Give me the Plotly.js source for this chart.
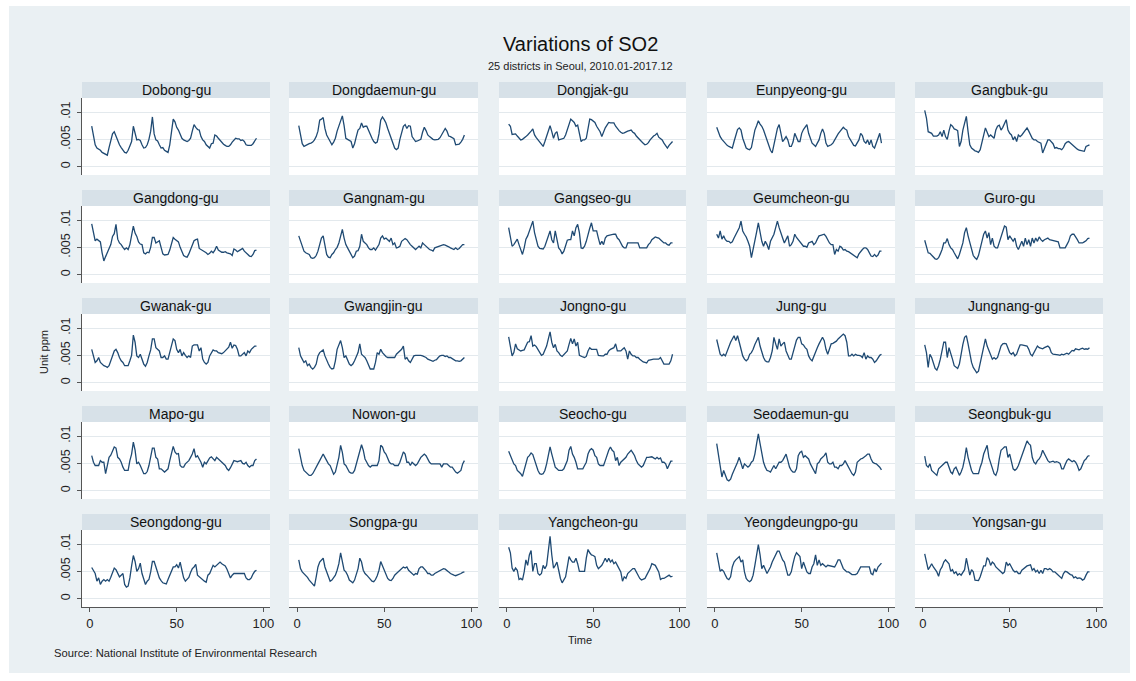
<!DOCTYPE html>
<html><head><meta charset="utf-8">
<script src="https://cdn.plot.ly/plotly-3.0.1.min.js"></script>
<style>
html,body{margin:0;padding:0;background:#ffffff;width:1136px;height:681px;overflow:hidden}
#chart{position:absolute;left:9px;top:6px;width:1121px;height:667px}
</style></head><body><div id="chart"></div>
<script>
// Monthly SO2 (values in 0.001 ppm), t = 1..96 (2010.01-2017.12)
const districts = ["Dobong-gu","Dongdaemun-gu","Dongjak-gu","Eunpyeong-gu","Gangbuk-gu",
  "Gangdong-gu","Gangnam-gu","Gangseo-gu","Geumcheon-gu","Guro-gu",
  "Gwanak-gu","Gwangjin-gu","Jongno-gu","Jung-gu","Jungnang-gu",
  "Mapo-gu","Nowon-gu","Seocho-gu","Seodaemun-gu","Seongbuk-gu",
  "Seongdong-gu","Songpa-gu","Yangcheon-gu","Yeongdeungpo-gu","Yongsan-gu"];

const dobong = [7.4,5.5,4.0,3.4,3.2,3.0,2.6,2.4,2.3,2.1,3.5,5.0, 6.0,6.4,5.5,4.6,4.0,3.5,3.0,2.6,2.5,3.0,3.8,4.6,
  7.4,6.0,4.9,5.0,4.8,4.0,3.4,3.5,4.0,5.0,6.5,9.1, 6.0,4.9,4.7,4.0,3.4,3.5,3.0,2.8,2.6,4.0,6.5,8.7,
  8.2,7.2,6.7,5.8,5.2,4.9,4.7,4.6,4.8,5.2,6.5,7.7, 7.2,6.8,6.7,5.5,4.9,4.6,4.0,3.6,3.4,4.2,4.3,5.8,
  5.6,5.2,4.8,4.4,4.1,3.9,3.7,3.7,4.0,4.5,4.9,5.2, 5.1,5.1,4.8,4.9,4.6,4.0,3.9,3.9,3.9,4.2,4.6,5.2];
const dongdaemun = [7.5,5.5,4.2,3.7,3.9,4.0,4.2,4.3,4.5,4.9,5.5,6.5, 8.5,8.7,9.0,7.0,5.8,5.2,4.6,4.0,4.5,5.2,6.5,7.5,
  8.5,9.3,7.5,5.2,5.0,4.8,4.6,3.4,4.2,5.5,6.7,7.0, 8.0,7.2,7.4,7.4,6.6,6.1,5.2,4.6,4.3,4.5,6.0,8.5,
  9.1,8.6,8.0,7.0,6.1,5.5,4.6,3.4,3.1,3.4,5.0,6.5, 7.4,7.7,7.0,7.5,7.4,5.5,5.0,4.6,4.7,4.9,5.0,6.3,
  7.2,6.6,5.8,5.5,5.2,5.0,4.9,4.9,5.0,5.3,5.8,6.3, 7.0,6.5,5.6,5.5,5.3,5.1,4.0,4.0,4.1,4.5,5.0,5.8];
const dongjak = [7.8,7.4,5.9,6.0,6.0,5.6,5.3,4.9,5.0,5.2,5.5,5.8, 6.1,6.5,6.9,5.8,5.3,4.9,4.6,4.2,3.7,4.6,5.5,6.4,
  7.5,6.4,5.2,6.1,6.4,4.9,5.0,5.0,5.2,5.8,6.7,7.5, 8.7,8.4,8.1,7.4,7.6,6.1,4.6,4.9,4.9,5.2,6.7,8.7,
  8.6,8.4,8.1,7.4,6.9,6.4,5.5,6.4,7.1,7.6,8.1,8.0, 8.0,8.0,7.4,6.9,6.6,6.3,6.1,6.2,6.4,6.5,6.6,6.7,
  6.3,6.1,5.6,5.2,5.0,4.6,4.3,4.0,4.1,4.4,4.9,5.3, 5.6,5.8,6.1,5.4,5.1,4.9,4.3,3.9,3.4,3.9,4.3,4.6];
const eunpyeong = [7.2,6.2,5.5,5.0,4.6,4.3,3.9,3.7,3.6,3.4,4.6,6.0, 6.8,7.1,6.7,5.2,4.3,3.4,3.2,3.1,3.5,5.0,6.7,7.5,
  8.4,7.8,7.4,6.7,5.8,4.8,3.7,3.0,2.5,4.0,6.1,7.0, 7.7,6.1,4.6,5.0,5.5,4.9,3.7,3.7,4.5,6.1,5.2,4.6,
  4.6,6.1,6.8,7.3,7.7,6.1,5.2,4.3,4.0,3.7,4.3,4.9, 6.1,6.9,6.1,4.3,3.7,3.8,4.0,4.3,4.9,5.5,6.0,6.4,
  6.9,7.2,6.9,6.7,5.5,4.9,4.3,3.9,3.8,4.3,4.9,6.1, 5.7,4.6,4.3,4.9,4.0,4.9,3.7,3.4,4.3,5.2,6.1,4.3];
const gangbuk = [10.3,8.9,6.4,6.2,6.1,5.6,5.6,5.6,5.8,6.4,5.5,6.7, 5.5,5.0,6.5,7.7,7.4,6.9,6.8,6.6,3.7,4.6,6.7,8.0,
  9.2,6.4,4.0,3.4,3.1,2.9,2.8,2.6,3.1,4.3,5.5,7.1, 6.3,5.5,5.8,5.5,5.2,6.7,7.4,7.6,6.7,7.2,8.0,8.6,
  6.7,6.1,5.8,4.9,5.5,4.6,5.8,5.5,5.8,6.2,6.6,7.1, 6.5,5.8,5.2,4.9,4.9,4.6,4.5,4.3,2.5,3.4,4.0,4.9,
  4.9,4.6,4.2,3.4,3.5,3.3,3.3,3.1,3.5,4.2,4.5,4.6, 4.3,4.0,3.8,3.4,3.2,3.0,2.9,2.8,2.8,3.7,3.9,4.0];
const gangdong = [9.3,7.5,6.2,6.5,6.3,6.0,4.0,2.5,3.3,4.0,4.8,5.5, 7.0,7.5,9.2,6.5,5.8,5.5,5.0,4.6,4.9,4.6,5.5,7.0,
  8.9,7.6,7.0,6.0,5.6,5.5,4.0,3.8,4.1,4.0,5.0,6.8, 6.8,5.8,6.0,6.2,5.0,3.8,3.6,3.6,3.7,4.5,5.5,6.8,
  6.5,6.3,6.0,5.0,4.2,3.5,3.3,3.2,3.8,4.5,5.2,6.2, 6.4,6.5,4.8,4.6,4.5,4.2,4.0,3.7,3.9,4.3,4.0,4.5,
  5.2,4.5,4.3,4.1,4.1,4.2,4.0,3.9,3.8,3.5,4.7,4.5, 4.2,4.4,4.6,4.8,4.3,4.0,3.8,3.4,3.3,3.7,4.4,4.5];
const gangnam = [7.1,6.1,5.0,4.3,4.0,3.8,3.7,3.1,3.0,3.1,3.5,4.3, 5.8,6.7,7.1,5.2,3.7,3.2,3.1,3.7,4.0,4.6,5.0,5.8,
  7.0,8.3,6.7,5.5,4.9,4.3,3.5,3.1,3.4,4.3,4.4,5.2, 7.4,6.1,5.8,5.5,4.9,4.6,4.6,4.9,4.5,4.9,5.5,6.7,
  7.1,6.5,6.7,6.4,6.1,6.7,5.5,5.8,4.9,5.0,5.2,6.1, 6.4,6.6,6.4,5.9,5.5,5.2,4.9,4.6,4.9,5.2,4.9,5.8,
  5.5,5.2,4.9,4.6,4.5,4.3,4.9,5.0,5.2,5.3,5.4,5.5, 5.4,5.3,5.1,4.9,4.8,4.6,4.9,4.6,4.8,5.2,5.5,5.5];
const gangseo = [8.6,6.7,5.2,5.5,6.1,6.5,5.5,4.6,3.7,4.9,6.5,7.1, 8.0,9.2,9.8,7.7,6.1,5.2,4.8,4.7,4.7,5.2,6.1,7.0,
  8.0,6.4,5.8,8.0,6.1,4.9,4.5,3.8,4.3,5.2,6.3,6.4, 6.4,8.0,7.1,8.6,9.2,7.7,4.9,4.8,5.2,6.1,7.5,8.5,
  9.5,8.0,8.0,8.0,6.7,5.5,6.1,5.5,6.7,7.1,7.2,7.3, 7.4,7.4,7.4,6.7,6.4,5.8,5.2,4.9,4.9,5.8,5.8,5.8,
  5.8,5.8,5.8,5.8,4.9,4.9,4.9,4.9,4.9,5.5,5.8,6.4, 6.7,6.9,6.8,6.7,6.4,6.1,5.8,5.8,5.5,5.4,5.8,5.8];
const geumcheon = [7.4,6.7,8.0,6.5,7.1,6.4,6.1,6.1,5.8,6.0,6.7,7.4, 8.0,8.6,9.8,8.0,7.4,6.9,6.1,5.2,3.1,4.9,6.1,7.8,
  9.5,7.4,6.1,5.2,6.1,5.5,4.6,6.1,6.7,7.4,8.6,9.8, 8.6,7.4,6.7,5.8,6.4,7.1,5.2,5.5,6.1,7.4,6.8,6.4,
  6.1,5.8,5.2,5.2,5.0,5.8,6.0,6.1,5.5,5.8,6.5,7.1, 7.2,7.3,7.4,7.0,6.4,5.8,5.5,5.5,3.7,4.6,4.3,5.2,
  5.0,4.5,4.6,4.3,4.2,4.0,3.7,3.6,3.4,3.1,3.8,4.3, 4.6,4.9,4.9,4.6,4.0,3.4,3.3,3.7,3.3,3.6,4.3,4.3];
const guro = [6.3,4.9,4.0,3.9,3.5,3.1,2.9,2.8,3.1,3.8,4.6,5.8, 5.8,6.6,5.5,4.9,4.6,4.0,3.4,2.9,3.7,5.0,5.8,7.7,
  8.6,7.1,5.8,4.6,3.5,3.1,2.8,3.5,4.6,6.1,7.4,8.0, 6.7,7.7,5.5,6.7,5.2,4.9,4.9,5.8,6.7,7.7,8.9,8.7,
  6.4,7.1,6.7,6.1,6.7,5.2,4.6,5.5,6.1,5.2,6.7,5.5, 6.4,5.2,6.7,5.8,6.7,6.1,6.9,6.4,6.1,6.4,6.5,6.7,
  6.4,6.3,6.2,6.2,6.1,6.0,4.9,4.9,4.9,4.9,5.5,6.1, 7.1,7.4,7.4,7.0,6.4,5.8,5.8,5.8,6.0,6.2,6.6,6.7];
const gwanak = [6.1,4.9,3.7,4.0,4.6,3.7,3.4,3.1,3.0,2.8,3.1,4.0, 4.6,5.8,6.1,5.5,4.6,4.0,3.7,3.1,3.1,3.1,4.0,5.0,
  8.7,7.4,4.9,4.6,5.2,4.3,3.4,3.0,3.7,4.9,6.0,8.0, 8.0,6.4,6.1,5.8,4.6,4.6,4.9,4.3,4.3,5.5,7.0,8.0,
  7.7,6.1,5.5,6.1,4.9,5.5,5.0,4.6,4.9,4.6,6.7,6.9, 6.9,6.9,5.8,6.4,4.3,3.7,3.4,3.7,4.9,5.5,6.0,5.8,
  5.8,5.5,5.4,5.3,5.5,5.8,6.2,6.5,7.4,6.3,6.9,6.8, 6.1,4.9,4.9,5.2,5.5,4.9,5.8,5.5,6.1,6.4,6.7,6.7];
const gwangjin = [6.4,4.9,4.3,3.7,4.0,3.1,3.4,2.8,2.5,2.8,3.4,4.9, 5.5,5.8,6.0,4.9,4.0,3.4,2.8,2.5,2.6,4.0,6.1,6.9,
  7.7,6.4,4.6,4.9,4.0,3.4,3.1,3.4,4.0,4.9,5.5,7.1, 5.2,4.9,4.6,4.0,3.1,2.5,2.5,2.5,3.7,5.5,5.2,6.1,
  5.5,5.1,4.8,4.6,4.6,4.6,4.6,4.6,5.2,5.5,5.8,6.1, 6.7,4.3,4.6,4.0,3.7,4.3,4.9,5.0,5.0,5.1,5.0,4.9,
  4.8,4.6,4.3,4.2,4.0,3.9,4.1,4.2,4.6,4.9,5.0,5.0, 4.8,4.9,4.6,4.6,4.4,4.2,4.0,4.0,3.9,4.0,4.3,4.6];
const jongno = [8.4,6.4,4.9,5.5,7.1,6.2,6.0,5.8,5.9,6.0,6.7,7.4, 7.5,8.6,6.7,6.9,6.6,6.1,5.5,5.0,5.2,6.0,6.7,8.0,
  9.3,7.4,6.4,7.0,5.8,5.5,5.0,4.8,5.2,5.5,5.8,7.0, 8.1,7.1,8.0,6.7,7.4,5.0,4.8,4.7,4.6,4.8,5.8,6.4,
  6.1,6.1,6.1,6.1,5.0,4.9,4.9,4.9,5.2,5.2,5.8,6.1, 6.2,6.4,7.1,5.8,5.8,5.8,6.1,6.4,5.8,4.3,5.8,5.2,
  4.9,4.9,4.6,4.6,4.3,4.0,3.8,3.7,3.6,4.1,4.2,4.3, 4.3,4.3,4.3,4.3,4.6,4.0,3.4,3.4,3.4,3.4,4.0,5.2];
const jung = [7.9,6.4,5.2,4.9,5.2,4.9,5.8,6.7,7.4,8.0,8.6,7.7, 8.6,7.4,6.1,4.9,4.3,4.0,4.3,5.2,5.5,6.1,7.0,7.7,
  8.3,6.7,5.5,4.6,4.0,3.8,3.8,4.6,5.8,8.3,7.1,6.1, 8.0,6.7,7.1,7.4,5.8,5.0,4.3,4.3,5.5,7.1,7.8,8.3,
  8.3,7.1,6.9,6.4,6.1,4.9,4.3,4.0,4.9,5.8,6.4,7.1, 7.7,8.3,7.7,6.1,5.2,6.4,7.1,7.2,7.4,7.6,8.0,8.3,
  8.6,8.9,8.6,7.4,4.9,4.9,5.2,4.9,5.2,5.0,5.0,4.9, 4.6,5.5,4.3,4.9,4.6,4.6,4.3,3.7,4.0,4.6,5.0,5.2];
const jungnang = [6.9,5.5,2.8,5.2,4.6,3.4,2.6,2.3,3.1,4.3,6.0,7.4, 7.4,4.6,6.4,5.5,4.3,3.1,2.9,2.6,3.4,5.5,7.0,8.3,
  8.6,7.1,5.2,3.7,2.8,2.2,1.8,2.1,3.7,5.2,7.0,8.0, 6.7,5.8,4.9,4.3,4.6,4.3,4.6,5.5,6.7,7.1,7.2,7.1,
  6.1,5.5,5.2,5.5,4.9,5.2,6.1,6.9,6.9,6.8,6.7,6.7, 6.1,5.2,4.9,5.5,6.1,6.7,6.4,6.3,6.2,6.4,6.6,6.7,
  6.4,5.5,5.2,5.2,5.2,5.1,5.0,5.2,5.1,5.3,5.4,5.2, 5.5,5.9,5.8,6.2,6.1,6.0,6.2,6.3,6.1,6.2,6.1,6.4];
const mapo = [6.4,5.2,4.6,4.6,4.6,5.5,5.2,5.2,3.1,4.6,6.1,6.5, 7.4,8.0,7.8,6.1,5.8,5.2,4.3,3.7,3.7,3.7,5.5,6.7,
  8.9,7.4,4.9,5.2,4.6,3.7,3.1,3.1,3.5,4.6,6.1,7.8, 7.8,6.1,5.8,4.0,4.0,3.7,3.4,3.7,4.0,5.5,7.0,8.1,
  7.1,6.7,6.8,4.6,4.3,4.3,4.9,5.2,5.5,6.1,6.7,7.7, 6.1,6.4,5.8,5.2,4.3,5.2,4.9,5.5,6.0,6.2,5.8,5.5,
  6.1,5.8,5.5,5.2,4.9,4.6,4.0,3.7,4.2,4.9,5.5,5.4, 5.3,5.4,5.5,5.0,4.9,5.2,4.6,4.3,4.6,4.6,5.5,5.8];
const nowon = [7.7,6.1,4.6,3.7,3.4,3.1,2.8,2.8,3.1,3.7,4.2,4.9, 5.5,6.1,6.7,6.1,5.5,4.9,4.6,3.7,3.0,3.4,4.9,6.1,
  8.3,7.0,4.9,4.6,4.0,3.4,3.2,3.2,3.7,4.9,6.1,7.0, 8.4,7.4,5.8,5.2,4.6,4.3,4.6,4.6,4.6,4.6,5.5,8.3,
  8.0,7.1,6.7,5.8,5.2,4.9,4.9,4.6,4.6,4.6,5.2,6.4, 7.1,6.7,5.2,5.2,4.6,5.2,4.9,4.6,4.9,5.5,6.1,6.4,
  6.7,6.4,5.8,5.2,4.9,4.9,4.8,4.8,4.9,4.9,4.3,4.9, 4.9,4.9,4.6,4.3,4.3,3.8,3.4,3.2,3.4,3.7,4.9,5.5];
const seocho = [7.2,6.4,5.8,4.9,4.6,3.7,3.4,3.1,2.6,3.7,4.9,6.1, 6.4,6.9,6.6,5.5,4.9,3.7,3.1,3.0,3.1,3.7,4.9,6.4,
  8.0,6.7,5.5,4.3,4.0,3.7,3.7,3.7,4.0,4.9,5.5,7.4, 8.1,6.7,6.1,5.2,4.0,4.0,4.0,4.0,4.6,5.2,6.7,7.4,
  7.7,7.4,6.4,6.1,4.9,4.6,4.6,4.6,5.5,6.7,7.4,8.0, 7.4,7.1,5.5,6.1,4.6,5.2,5.5,5.8,6.1,6.7,7.0,7.4,
  6.9,6.4,5.5,4.9,4.6,4.3,4.6,5.5,6.1,6.1,6.2,6.2, 6.0,5.8,6.1,5.8,6.0,5.2,5.2,4.9,4.0,4.9,5.4,5.4];
const seodaemun = [8.6,6.5,4.0,2.5,3.7,2.8,2.0,1.8,2.1,3.0,3.7,4.3, 5.2,6.1,4.9,4.0,4.9,4.6,4.3,4.6,5.2,5.5,6.7,8.6,
  10.4,8.6,6.7,5.2,4.3,3.7,3.6,3.4,4.0,4.6,4.0,4.6, 5.2,5.2,5.5,6.1,6.7,5.5,4.3,3.7,3.4,3.4,4.0,6.4,
  7.0,7.2,6.1,6.4,6.1,5.8,4.9,4.3,3.7,3.1,4.9,5.2, 5.8,6.1,6.4,6.9,5.2,4.9,4.9,5.2,4.3,4.3,4.0,4.6,
  4.6,4.9,5.5,4.9,4.3,3.7,3.1,2.8,3.4,5.2,5.6,5.8, 5.9,6.1,6.4,6.7,6.7,5.8,5.2,5.0,4.9,4.6,4.3,3.8];
const seongbuk = [6.3,4.6,4.3,4.9,3.7,3.4,3.1,2.8,4.0,4.3,4.6,4.9, 5.2,5.2,4.3,3.4,3.1,4.0,4.3,3.4,2.8,3.4,4.3,5.8,
  7.9,6.1,4.6,3.7,3.1,3.1,3.1,3.1,4.3,5.2,6.7,7.4, 8.3,6.1,5.2,4.0,3.1,2.8,3.7,5.8,7.4,7.7,8.0,8.0,
  6.1,6.7,5.5,4.0,3.7,4.0,4.6,5.5,6.4,7.4,8.3,9.1, 8.6,8.3,6.1,5.2,4.9,5.5,5.8,6.4,7.4,6.7,6.1,5.5,
  5.2,5.3,5.4,5.2,5.3,5.2,5.0,4.0,4.0,4.8,5.5,5.8, 5.5,5.3,5.5,5.2,4.6,3.7,4.0,4.9,5.5,5.8,6.3,6.4];
const seongdong = [5.7,5.2,4.6,3.2,3.8,2.6,3.2,3.5,3.2,3.5,3.2,3.9, 4.9,5.6,5.3,4.6,4.0,4.3,4.6,2.6,2.1,2.3,3.8,6.0,
  7.9,6.8,5.0,5.5,6.5,4.6,3.4,2.6,3.2,3.5,4.9,6.8, 6.8,5.9,4.6,3.8,3.3,2.9,2.8,2.7,3.5,4.4,5.2,5.8,
  5.8,6.2,5.6,6.7,5.2,3.8,3.2,3.5,3.9,4.8,5.5,5.8, 6.3,4.3,4.0,3.7,3.5,3.2,3.0,4.3,4.6,5.5,6.1,5.8,
  6.1,6.4,6.7,6.4,6.2,6.0,5.4,4.6,3.8,4.3,4.6,4.6, 4.6,4.6,4.6,4.6,4.6,3.8,3.5,3.5,3.8,4.5,5.0,5.2];
const songpa = [7.1,5.5,4.9,4.6,4.3,3.9,3.4,3.0,2.7,2.3,4.0,5.8, 6.7,7.1,7.4,5.8,4.9,3.7,3.2,3.4,3.8,4.3,5.2,6.4,
  8.4,6.4,5.2,4.9,4.3,3.4,3.1,2.9,3.4,4.3,5.5,7.4, 6.7,5.2,4.6,4.3,3.9,3.4,3.2,3.1,3.5,4.2,5.2,6.8,
  6.1,5.2,4.6,3.7,3.4,3.3,3.7,4.3,4.6,4.9,5.2,5.5, 5.8,5.6,5.8,5.2,4.9,4.6,4.3,4.6,4.5,5.5,5.8,5.8,
  5.5,5.1,4.6,4.6,4.3,4.3,4.6,4.8,5.0,5.2,5.4,5.5, 5.4,5.2,4.9,4.6,4.4,4.3,4.2,4.3,4.4,4.6,4.8,4.9];
const yangcheon = [9.4,8.4,5.6,5.0,5.6,5.2,3.5,3.7,3.4,4.9,7.1,6.1, 8.0,8.8,5.0,6.4,6.4,4.6,4.3,4.6,6.1,5.5,6.1,9.0,
  11.4,8.0,5.6,6.1,6.7,5.2,3.7,2.9,3.5,4.0,5.8,7.7, 7.1,6.7,6.7,7.4,6.4,5.0,5.0,5.0,5.0,7.4,9.0,8.4,
  8.0,7.9,7.7,6.1,5.5,5.8,6.1,6.7,7.4,6.7,7.4,6.7, 7.1,6.4,6.7,6.1,5.5,4.9,3.2,4.0,3.7,4.6,4.9,5.2,
  5.5,5.5,4.9,4.3,3.7,3.4,3.5,3.7,4.3,4.9,5.5,6.4, 6.2,6.1,5.5,4.9,3.5,3.7,3.7,3.9,4.0,4.3,4.0,4.1];
const yeongdeungpo = [8.4,6.7,5.0,5.3,5.0,4.3,3.7,3.5,4.0,5.8,6.7,7.1, 7.4,7.7,6.7,7.1,4.9,3.7,3.3,3.1,3.4,4.3,6.1,8.0,
  9.9,8.0,5.5,6.1,5.2,4.6,5.2,5.8,6.7,7.4,8.0,8.7, 8.7,7.7,7.1,6.7,5.2,4.3,4.3,4.9,6.4,7.7,8.4,8.0,
  7.7,5.5,6.7,5.8,4.9,4.6,4.6,5.8,6.4,8.0,6.1,7.1, 6.1,6.4,6.1,5.8,6.1,6.0,6.0,5.8,5.8,6.4,7.1,7.1,
  6.4,5.5,5.2,4.9,4.9,4.6,4.4,4.4,4.4,4.6,5.2,5.8, 5.8,5.8,5.8,5.8,5.8,4.6,4.4,5.5,4.9,5.8,6.1,6.5];
const yongsan = [8.2,6.7,5.3,5.8,6.4,5.8,5.3,4.9,4.1,5.3,5.8,6.7, 7.1,6.7,6.4,5.0,5.3,4.6,4.9,4.3,4.6,4.3,4.9,5.3,
  7.4,5.5,4.3,5.3,4.9,3.4,3.3,3.3,4.0,4.9,6.0,6.0, 7.5,7.1,6.1,6.7,6.4,5.8,5.5,5.2,4.9,4.6,4.9,6.7,
  6.1,6.4,5.8,5.2,4.9,5.0,4.6,4.6,5.2,5.5,5.8,6.0, 6.1,6.2,5.2,5.5,4.9,5.2,4.6,5.2,4.6,5.5,5.5,5.3,
  5.5,5.3,4.9,4.9,4.6,4.3,4.1,3.7,4.6,5.0,4.9,4.6, 4.4,4.3,3.8,4.0,3.7,3.8,3.7,3.4,3.6,4.3,4.9,4.9];

const seriesList = [dobong, dongdaemun, dongjak, eunpyeong, gangbuk,
  gangdong, gangnam, gangseo, geumcheon, guro,
  gwanak, gwangjin, jongno, jung, jungnang,
  mapo, nowon, seocho, seodaemun, seongbuk,
  seongdong, songpa, yangcheon, yeongdeungpo, yongsan];

const yTickVals = [0, 0.005, 0.01];
const yTickText = ["0", ".005", ".01"];
const xTickVals = [0, 50, 100];
const xTickText = ["0", "50", "100"];

// ---- layout geometry (pixels inside the chart div) ----
const W = 1121, H = 667, OX = 9, OY = 6;
const colsPx = [[82,270],[289,478],[499,686],[707,895],[915,1103]];
const rowTop0 = 98, rowStep = 108, plotH = 77, headH = 16;
const xf = px => (px - OX) / W;
const yf = py => 1 - (py - OY) / H;

const FONT = "Liberation Sans, Arial, Helvetica, sans-serif";
const traces = [], shapes = [], annotations = [];
const layout = {
  width: W, height: H,
  margin: {l:0, r:0, t:0, b:0, pad:0},
  paper_bgcolor: "#eaf0f3",
  plot_bgcolor: "#ffffff",
  showlegend: false,
  font: {family: FONT, color: "#222"}
};

seriesList.forEach((vals, i) => {
  const r = Math.floor(i / 5), c = i % 5;
  const n = i === 0 ? "" : String(i + 1);
  const top = rowTop0 + r * rowStep, bot = top + plotH;
  const [lft, rgt] = colsPx[c];
  const months = vals.map((_, k) => k + 1);
  traces.push({
    type: "scatter", mode: "lines",
    x: months, y: vals.map(v => v / 1000),
    xaxis: "x" + n, yaxis: "y" + n,
    line: {color: "#1f4a73", width: 1.3},
    hoverinfo: "skip"
  });
  layout["xaxis" + n] = {
    domain: [xf(lft), xf(rgt)], anchor: "y" + n,
    range: [-4.6, 103.8], fixedrange: true,
    showgrid: false, zeroline: false,
    tickvals: xTickVals, ticktext: xTickText,
    showticklabels: r === 4, ticks: r === 4 ? "outside" : "",
    ticklen: 4, tickcolor: "#555", tickwidth: 1,
    showline: r === 4, linecolor: "#555", linewidth: 1,
    tickfont: {size: 13, color: "#222", family: FONT}
  };
  layout["yaxis" + n] = {
    domain: [yf(bot), yf(top)], anchor: "x" + n,
    range: [-0.00153, 0.01257], fixedrange: true,
    showgrid: true, gridcolor: "#e3e9ed", gridwidth: 1, zeroline: false,
    tickvals: yTickVals, ticktext: yTickText,
    showticklabels: c === 0, ticks: c === 0 ? "outside" : "",
    ticklen: 4, tickcolor: "#555", tickwidth: 1, tickangle: -90,
    ticklabelstandoff: 2,
    showline: c === 0, linecolor: "#555", linewidth: 1,
    tickfont: {size: 12.5, color: "#222", family: FONT}
  };
  shapes.push({
    type: "rect", xref: "paper", yref: "paper",
    x0: xf(lft), x1: xf(rgt), y0: yf(top), y1: yf(top - headH),
    fillcolor: "#d7e1e8", line: {width: 0}, layer: "above"
  });
  annotations.push({
    xref: "paper", yref: "paper",
    x: xf((lft + rgt) / 2), y: yf(top - headH / 2),
    text: districts[i], showarrow: false,
    xanchor: "center", yanchor: "middle",
    font: {size: 14, color: "#111", family: FONT}
  });
});

annotations.push(
  {xref:"paper", yref:"paper", x: xf(580), y: yf(44), text: "Variations of SO2", showarrow:false,
   xanchor:"center", yanchor:"middle", font:{size:20, color:"#111", family: FONT}},
  {xref:"paper", yref:"paper", x: xf(580), y: yf(65.5), text: "25 districts in Seoul, 2010.01-2017.12", showarrow:false,
   xanchor:"center", yanchor:"middle", font:{size:11, color:"#222", family: FONT}},
  {xref:"paper", yref:"paper", x: xf(44), y: yf(352), text: "Unit ppm", showarrow:false, textangle:-90,
   xanchor:"center", yanchor:"middle", font:{size:11, color:"#222", family: FONT}},
  {xref:"paper", yref:"paper", x: xf(580), y: yf(640), text: "Time", showarrow:false,
   xanchor:"center", yanchor:"middle", font:{size:11, color:"#222", family: FONT}},
  {xref:"paper", yref:"paper", x: xf(52), y: yf(653), text: "Source: National Institute of Environmental Research", showarrow:false,
   xanchor:"left", yanchor:"middle", font:{size:11.2, color:"#222", family: FONT}}
);

layout.shapes = shapes;
layout.annotations = annotations;

Plotly.newPlot("chart", traces, layout, {displayModeBar: false, staticPlot: true});
</script></body></html>
